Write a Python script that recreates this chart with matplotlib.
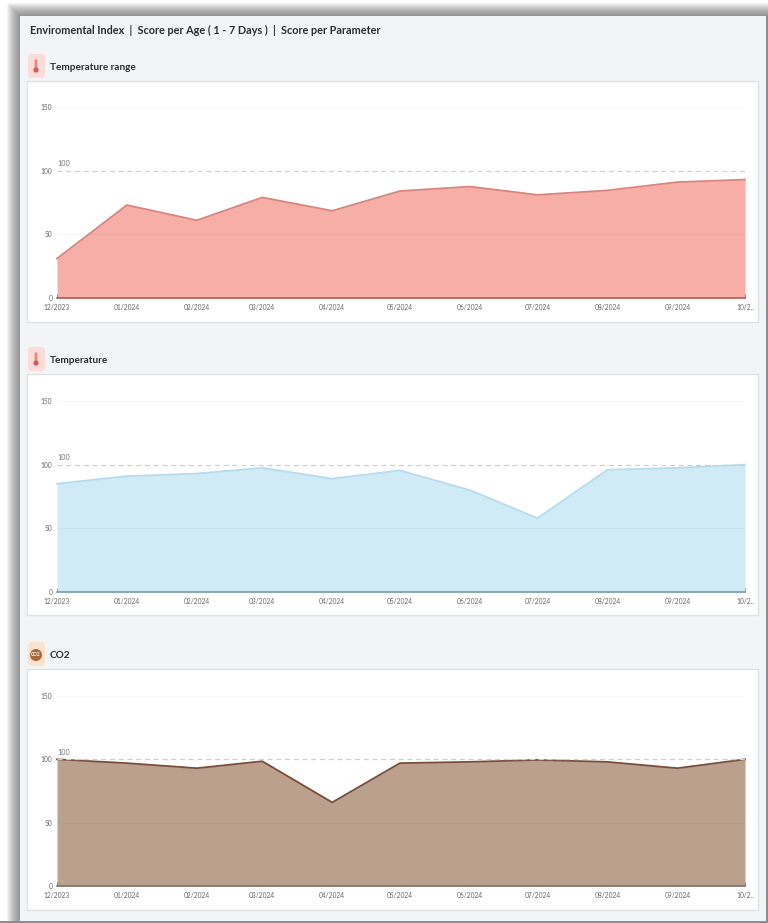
import matplotlib
matplotlib.use("Agg")
import matplotlib.pyplot as plt
import matplotlib.dates as mdates
import pandas as pd
from matplotlib.patches import Rectangle, FancyBboxPatch, Circle

plt.rcParams['font.family'] = ['Lato', 'Open Sans', 'DejaVu Sans']

W, H = 768, 923

months = ["2023-12-01", "2024-01-01", "2024-02-01", "2024-03-01", "2024-04-01", "2024-05-01",
          "2024-06-01", "2024-07-01", "2024-08-01", "2024-09-01", "2024-10-01"]
month_labels = ["12/2023", "01/2024", "02/2024", "03/2024", "04/2024", "05/2024",
                "06/2024", "07/2024", "08/2024", "09/2024", "10/2.."]
temp_range = [31, 73, 61, 79, 68.5, 84, 87.5, 81, 84.5, 91, 93]
temperature = [85, 91, 93, 97.5, 89, 95.5, 80, 58, 96, 97.5, 100]
co2 = [100, 97, 93, 98.5, 66, 97, 98, 99.5, 98, 93, 100]
y_ticks = [0, 50, 100, 150]
title = "Enviromental Index  |  Score per Age ( 1 - 7 Days )  |  Score per Parameter"

dates = mdates.date2num(pd.to_datetime(months))


def px_axes(fig, left, top, right, bottom):
    return fig.add_axes([left / W, 1 - bottom / H, (right - left) / W, (bottom - top) / H])


fig = plt.figure(figsize=(W / 100, H / 100), dpi=100, facecolor="white")

bg = fig.add_axes([0, 0, 1, 1])
bg.set_xlim(0, W)
bg.set_ylim(H, 0)
bg.axis("off")

# soft shadow around the page panel
for i in range(13):
    grow = 13 - i
    bg.add_patch(Rectangle((20 - grow, 16 - grow), 760 + grow, 920, fc="#555555", alpha=0.065, lw=0))
bg.add_patch(Rectangle((20, 16), 746, 905, fc="#f3f4f6", lw=0))
bg.add_patch(Rectangle((766, 16), 2, 907, fc="#8c8c8c", lw=0))
bg.add_patch(Rectangle((0, 921), W, 2, fc="#8c8c8c", lw=0))

bg.text(30, 30, title, fontsize=7.8, fontweight="bold", color="#2e2e2e", va="center")

panels = [
    ("Temperature range", temp_range, 81, 322, 107, 298, "#f6aea6", "#d9857d", "#a9605a", "temp"),
    ("Temperature", temperature, 374, 615, 401, 592, "#d0eaf6", "#b4dcee", "#7f98a8", "temp"),
    ("CO2", co2, 669, 910, 696, 886, "#bba08e", "#7a4c39", "#7d7470", "co2"),
]

for name, values, card_top, card_bottom, ax_top, ax_bottom, fill, line, axis_col, icon in panels:
    bg.add_patch(Rectangle((27, card_top), 731, card_bottom - card_top, fc="white", ec="#dfe1e4", lw=1))

    # small icon next to the panel heading
    icon_y = card_top - 15
    icon_bg = "#fbdcd8" if icon == "temp" else "#fae3cf"
    bg.add_patch(FancyBboxPatch((29, icon_y - 11), 15, 22, boxstyle="round,pad=1,rounding_size=4", fc=icon_bg, lw=0))
    if icon == "temp":
        bg.add_patch(FancyBboxPatch((35.2, icon_y - 6), 1.6, 8, boxstyle="round,pad=0.6", fc="#e8877f", lw=0))
        bg.add_patch(Circle((36, icon_y + 4), 2.6, fc="#d9574f", lw=0))
    else:
        bg.add_patch(Circle((36, icon_y + 1), 6, fc="#a9673a", lw=0))
        bg.text(36, icon_y + 1, "CO2", fontsize=3.5, color="white", ha="center", va="center", fontweight="bold")
    bg.text(49.5, icon_y + 1.5, name, fontsize=7.2, fontweight="bold", color="#2e2e2e", va="center")

    ax = px_axes(fig, 57, ax_top, 745, ax_bottom)
    ax.patch.set_alpha(0)
    ax.set_xlim(dates[0], dates[-1])
    ax.set_ylim(0, 150)
    ax.fill_between(dates, values, 0, color=fill, lw=0, zorder=2)
    ax.plot(dates, values, color=line, lw=1.3, zorder=3, clip_on=False)
    for t in [50, 150]:
        ax.axhline(t, color="#000000", alpha=0.03, lw=0.8, zorder=4)
    ax.axhline(100, color="#d0d0d0", lw=0.9, ls=(0, (4, 3)), zorder=4)
    ax.text(dates[0], 102.5, "100", fontsize=5.2, color="#777777", va="bottom", ha="left")

    for side in ["top", "right", "left"]:
        ax.spines[side].set_visible(False)
    ax.spines["bottom"].set_color(axis_col)
    ax.spines["bottom"].set_linewidth(1.2)
    ax.spines["bottom"].set_zorder(5)

    ax.set_xticks(dates)
    ax.set_xticklabels(month_labels)
    ax.set_yticks(y_ticks)
    ax.tick_params(axis="x", direction="in", length=3, width=0.7, color="#555555",
                   labelsize=4.8, labelcolor="#666666", pad=4.5)
    ax.tick_params(axis="y", length=0, labelsize=4.8, labelcolor="#666666", pad=3.5)
    for tick in ax.get_xticklines():
        tick.set_zorder(6)

fig.savefig("out.png", dpi=100)
